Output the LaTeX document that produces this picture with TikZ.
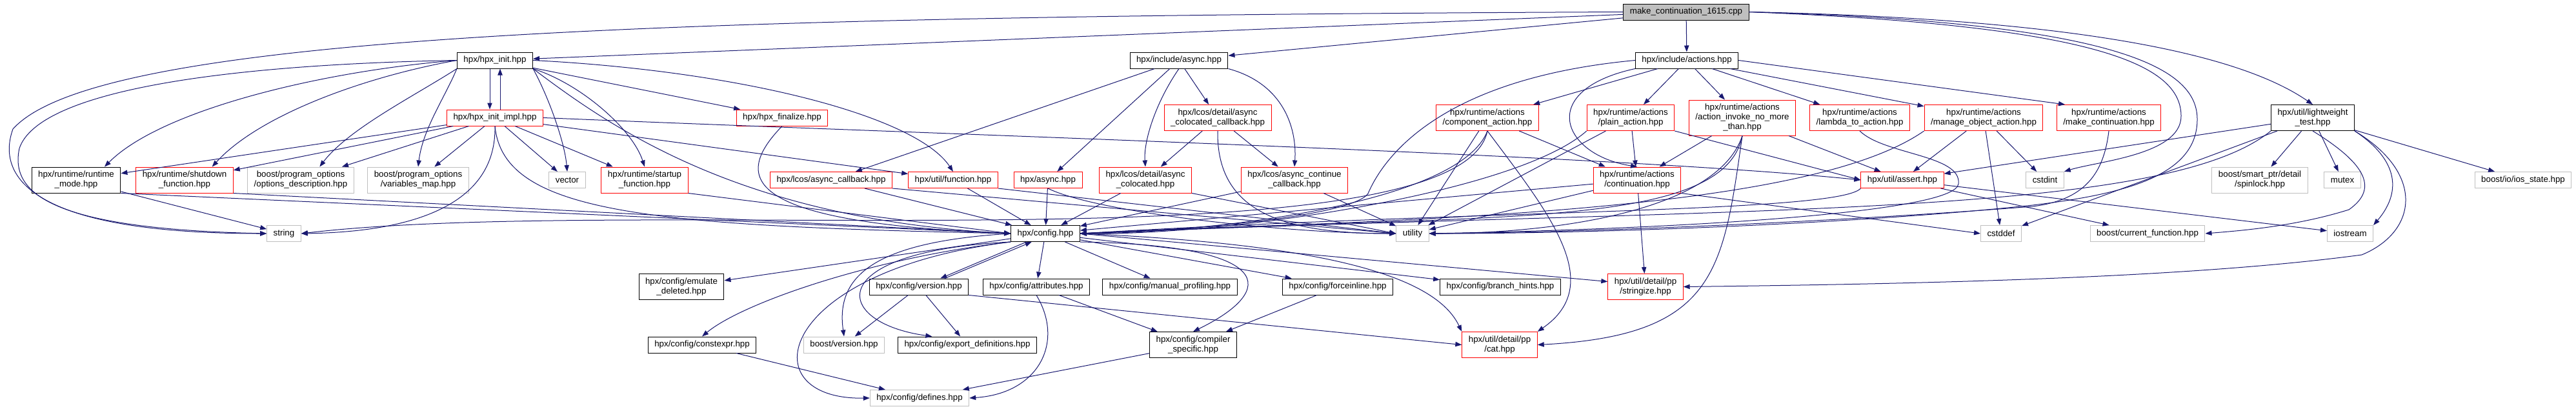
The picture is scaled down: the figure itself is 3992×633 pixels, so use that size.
\documentclass[tikz,border=0pt]{standalone}
\usepackage{fontspec}
\setmainfont{Liberation Sans}
\usepackage{xcolor}
\definecolor{dxblue}{RGB}{25,25,112}
\definecolor{dxgray}{RGB}{191,191,191}
\definecolor{dxred}{RGB}{255,0,0}
\usetikzlibrary{arrows.meta}
\tikzset{
  hdr/.style={draw=#1, line width=0.75pt, fill=white, font=\fontsize{10}{11.25}\selectfont,
              inner xsep=7.5pt, inner ysep=1pt, minimum height=18.75pt, align=center},
  hdr2/.style={hdr=#1, minimum height=30pt},
  hdr3/.style={hdr=#1, minimum height=41.25pt},
  dep/.style={-{Triangle[length=7.5pt,width=5.5pt]}, draw=dxblue, line width=0.75pt},
}
\begin{document}
\begin{tikzpicture}[x=0.75pt, y=-0.75pt]
\useasboundingbox (0,0) rectangle (3992,633);

% the test source
\node[hdr=black, fill=dxgray] (root) at (2613,18.5) {make\_continuation\_1615.cpp};

% headers the test includes
\node[hdr=black] (hpxinit) at (767,93.5) {hpx/hpx\_init.hpp};
\node[hdr=black] (incasync) at (1827,93.5) {hpx/include/async.hpp};
\node[hdr=black] (incactions) at (2614,93.5) {hpx/include/actions.hpp};
\node[hdr2=black] (lwtest) at (3584,182.5) {hpx/util/lightweight\\\_test.hpp};

% second level
\node[hdr=dxred] (initimpl) at (767,182.5) {hpx/hpx\_init\_impl.hpp};
\node[hdr=dxred] (finalize) at (1212,182.5) {hpx/hpx\_finalize.hpp};
\node[hdr2=dxred] (acolcb) at (1887,182.5) {hpx/lcos/detail/async\\\_colocated\_callback.hpp};
\node[hdr2=dxred] (compaction) at (2305,182.5) {hpx/runtime/actions\\/component\_action.hpp};
\node[hdr2=dxred] (plainaction) at (2527,182.5) {hpx/runtime/actions\\/plain\_action.hpp};
\node[hdr3=dxred] (invoke) at (2700,182.5) {hpx/runtime/actions\\/action\_invoke\_no\_more\\\_than.hpp};
\node[hdr2=dxred] (lambda) at (2882,182.5) {hpx/runtime/actions\\/lambda\_to\_action.hpp};
\node[hdr2=dxred] (manage) at (3074,182.5) {hpx/runtime/actions\\/manage\_object\_action.hpp};
\node[hdr2=dxred] (makecont) at (3268,182.5) {hpx/runtime/actions\\/make\_continuation.hpp};

% third level
\node[hdr2=black] (runtimemode) at (118,279) {hpx/runtime/runtime\\\_mode.hpp};
\node[hdr2=dxred] (shutdown) at (286,279) {hpx/runtime/shutdown\\\_function.hpp};
\node[hdr2=dxgray] (optdesc) at (466,279) {boost/program\_options\\/options\_description.hpp};
\node[hdr2=dxgray] (varmap) at (648,279) {boost/program\_options\\/variables\_map.hpp};
\node[hdr=dxgray] (vector) at (879,279) {vector};
\node[hdr2=dxred] (startup) at (999,279) {hpx/runtime/startup\\\_function.hpp};
\node[hdr=dxred] (asynccb) at (1288,279) {hpx/lcos/async\_callback.hpp};
\node[hdr=dxred] (function) at (1477,279) {hpx/util/function.hpp};
\node[hdr=dxred] (async) at (1624,279) {hpx/async.hpp};
\node[hdr2=dxred] (acol) at (1775,279) {hpx/lcos/detail/async\\\_colocated.hpp};
\node[hdr2=dxred] (acontcb) at (2006,279) {hpx/lcos/async\_continue\\\_callback.hpp};
\node[hdr2=dxred] (continuation) at (2537,279) {hpx/runtime/actions\\/continuation.hpp};
\node[hdr=dxred] (assert) at (2948,279) {hpx/util/assert.hpp};
\node[hdr=dxgray] (cstdint) at (3169,279) {cstdint};
\node[hdr2=dxgray] (spinlock) at (3502,279) {boost/smart\_ptr/detail\\/spinlock.hpp};
\node[hdr=dxgray] (mutex) at (3630,279) {mutex};
\node[hdr=dxgray] (iosstate) at (3910,279) {boost/io/ios\_state.hpp};

% fourth level
\node[hdr=dxgray] (string) at (440,362) {string};
\node[hdr=black] (config) at (1620,362) {hpx/config.hpp};
\node[hdr=dxgray] (utility) at (2189,362) {utility};
\node[hdr=dxgray] (cstddef) at (3101,362) {cstddef};
\node[hdr=dxgray] (curfunc) at (3328,362) {boost/current\_function.hpp};
\node[hdr=dxgray] (iostream) at (3642,362) {iostream};

% config headers
\node[hdr2=black] (emulate) at (1056,444.5) {hpx/config/emulate\\\_deleted.hpp};
\node[hdr=black] (cversion) at (1424,444.5) {hpx/config/version.hpp};
\node[hdr=black] (attributes) at (1606,444.5) {hpx/config/attributes.hpp};
\node[hdr=black] (manprof) at (1813,444.5) {hpx/config/manual\_profiling.hpp};
\node[hdr=black] (forceinline) at (2073,444.5) {hpx/config/forceinline.hpp};
\node[hdr=black] (branch) at (2325,444.5) {hpx/config/branch\_hints.hpp};
\node[hdr2=dxred] (stringize) at (2550,444.5) {hpx/util/detail/pp\\/stringize.hpp};
\node[hdr=black] (constexpr) at (1088,534.5) {hpx/config/constexpr.hpp};
\node[hdr=dxgray] (bversion) at (1308,534.5) {boost/version.hpp};
\node[hdr=black] (exportdef) at (1499,534.5) {hpx/config/export\_definitions.hpp};
\node[hdr2=black] (compiler) at (1849,534.5) {hpx/config/compiler\\\_specific.hpp};
\node[hdr2=dxred] (cat) at (2324,534.5) {hpx/util/detail/pp\\/cat.hpp};
\node[hdr=dxgray] (defines) at (1425,617) {hpx/config/defines.hpp};

% from the test source
\draw[dep] (root) -- (hpxinit);
\draw[dep] (root) -- (incasync);
\draw[dep] (root) -- (incactions);
\draw[dep] (root.east) .. controls (3250,30) and (3480,90) .. (lwtest.north);
\draw[dep] (root.west) .. controls (1000,25) and (150,55) .. (20,200) .. controls (-5,270) and (40,362) .. (string.west);
\draw[dep] (root.east) .. controls (3250,40) and (3380,100) .. (3380,180) .. controls (3380,240) and (3250,250) .. (cstdint.north east);
\draw[dep] (root.east) .. controls (3300,35) and (3405,110) .. (3405,185) .. controls (3405,270) and (3300,300) .. (3150,318) .. controls (2900,345) and (2500,362) .. (utility.east);

% hpx_init
\draw[dep] ([xshift=-6pt]hpxinit.south) -- ([xshift=-6pt]initimpl.north);
\draw[dep] (hpxinit) -- (finalize);
\draw[dep] (hpxinit.east) .. controls (1150,110) and (1420,180) .. (function.north);
\draw[dep] (hpxinit.south east) .. controls (950,200) and (1150,340) .. (config.west);
\draw[dep] (hpxinit.south east) .. controls (850,150) and (875,220) .. (vector.north);
\draw[dep] (hpxinit.south east) .. controls (900,130) and (980,200) .. (startup.north);
\draw[dep] (hpxinit.west) .. controls (500,110) and (250,170) .. ([xshift=33pt]runtimemode.north);
\draw[dep] (hpxinit.west) .. controls (560,120) and (400,180) .. ([xshift=32pt]shutdown.north);
\draw[dep] (hpxinit.south west) .. controls (640,150) and (540,200) .. ([xshift=22pt]optdesc.north);
\draw[dep] (hpxinit.south west) .. controls (690,150) and (655,200) .. (varmap.north);
\draw[dep] (hpxinit.west) .. controls (350,100) and (60,140) .. (30,230) .. controls (15,300) and (80,355) .. (string.west);

% hpx_init_impl
\draw[dep] ([xshift=6pt]initimpl.north) -- ([xshift=6pt]hpxinit.south);
\draw[dep] (initimpl) -- (runtimemode);
\draw[dep] (initimpl) -- (shutdown);
\draw[dep] (initimpl) -- (optdesc);
\draw[dep] (initimpl) -- (varmap);
\draw[dep] (initimpl) -- (vector);
\draw[dep] (initimpl) -- (startup);
\draw[dep] (initimpl) -- (function);
\draw[dep] (initimpl.south) .. controls (770,335) and (600,360) .. (string.east);
\draw[dep] (initimpl.south) .. controls (780,330) and (1000,350) .. (config.west);
\draw[dep] (initimpl.east) .. controls (1500,210) and (2500,240) .. (assert.west);

\draw[dep] (finalize.south) .. controls (1130,280) and (1160,345) .. (config.west);

% include/async
\draw[dep] (incasync) -- (asynccb);
\draw[dep] (incasync) -- (async);
\draw[dep] (incasync.south) .. controls (1790,160) and (1772,220) .. (acol.north);
\draw[dep] (incasync) -- (acolcb);
\draw[dep] (incasync.south east) .. controls (1990,130) and (2010,200) .. (acontcb.north);
\draw[dep] (acolcb) -- (acol);
\draw[dep] (acolcb) -- (acontcb);
\draw[dep] (acolcb.south) .. controls (1885,330) and (1990,362) .. (utility.west);

% include/actions
\draw[dep] (incactions) -- (compaction);
\draw[dep] (incactions) -- (plainaction);
\draw[dep] (incactions) -- (invoke);
\draw[dep] (incactions) -- (lambda);
\draw[dep] (incactions) -- (manage);
\draw[dep] (incactions.east) -- ([xshift=10pt]makecont.north west);
\draw[dep] (incactions.south west) .. controls (2380,140) and (2420,240) .. (continuation.north);
\draw[dep] (incactions.west) .. controls (2250,120) and (2150,230) .. (2120,300) .. controls (2100,330) and (1900,355) .. (config.east);

% actions
\draw[dep] (compaction) -- (continuation);
\draw[dep] (compaction) -- (utility);
\draw[dep] (compaction.south) .. controls (2400,330) and (2490,440) .. (cat.north east);
\draw[dep] (compaction.south) .. controls (2260,320) and (1850,362) .. (config.east);
\draw[dep] (compaction.south) .. controls (2260,420) and (1000,300) .. (string.east);
\draw[dep] (plainaction) -- (continuation);
\draw[dep] (plainaction) -- (utility);
\draw[dep] (plainaction.south west) .. controls (2350,300) and (1900,365) .. (config.east);
\draw[dep] (plainaction.south east) -- (assert.west);
\draw[dep] (invoke) -- (continuation);
\draw[dep] (invoke) -- (assert);
\draw[dep] (invoke.south) .. controls (2670,420) and (2660,520) .. (cat.east);
\draw[dep] (invoke.south) .. controls (2660,330) and (2400,362) .. (utility.east);
\draw[dep] (invoke.south) .. controls (2670,360) and (2300,330) .. (config.east);
\draw[dep] (lambda.south) .. controls (2920,240) and (3040,240) .. (3035,285) .. controls (3030,330) and (2600,355) .. (utility.east);
\draw[dep] (manage) -- (assert);
\draw[dep] (manage) -- (cstdint);
\draw[dep] (manage) -- (cstddef);
\draw[dep] (manage.south west) .. controls (2800,330) and (2200,340) .. (config.east);
\draw[dep] (makecont.south) .. controls (3260,270) and (3230,310) .. (3150,320) .. controls (2900,340) and (2500,360) .. (utility.east);
\draw[dep] (continuation) -- (stringize);
\draw[dep] (continuation) -- (config);
\draw[dep] (continuation) -- (utility);
\draw[dep] (continuation.south east) -- (cstddef.west);

% assert
\draw[dep] (assert.south west) .. controls (2850,330) and (2300,325) .. (config.east);
\draw[dep] (assert) -- (curfunc);
\draw[dep] (assert) -- (iostream);

% lightweight_test
\draw[dep] (lwtest) -- (assert);
\draw[dep] (lwtest) -- (spinlock);
\draw[dep] (lwtest) -- (mutex);
\draw[dep] (lwtest) -- (iosstate);
\draw[dep] (lwtest) -- (cstddef);
\draw[dep] (lwtest.south west) .. controls (3350,340) and (2700,320) .. (config.east);
\draw[dep] (lwtest.south east) .. controls (3720,250) and (3720,300) .. (iostream.north east);
\draw[dep] (lwtest.south) .. controls (3660,250) and (3690,290) .. (3640,325) .. controls (3560,350) and (3480,357) .. (curfunc.east);
\draw[dep] (lwtest.south east) .. controls (3760,270) and (3745,360) .. (3660,395) .. controls (3400,430) and (3000,440) .. (stringize.east);

% third level into config and utility
\draw[dep] (runtimemode) -- (string);
\draw[dep] (runtimemode.south east) -- (config.west);
\draw[dep] (shutdown.south east) -- (config.west);
\draw[dep] (startup.south east) -- (config.west);
\draw[dep] (asynccb) -- (config);
\draw[dep] (asynccb.south east) -- (utility.west);
\draw[dep] (function) -- (config);
\draw[dep] (function.south east) -- (utility.west);
\draw[dep] (async) -- (config);
\draw[dep] (async.south) .. controls (1700,330) and (2000,362) .. (utility.west);
\draw[dep] (acol) -- (config);
\draw[dep] (acol.south east) -- (utility.west);
\draw[dep] (acontcb) -- (utility);
\draw[dep] (acontcb) -- (config);

% config
\draw[dep] (config) -- (emulate);
\draw[dep] (config.south west) .. controls (1350,400) and (1150,470) .. (constexpr.north);
\draw[dep] (config.west) .. controls (1350,375) and (1295,430) .. (bversion.north);
\draw[dep] ([xshift=-22pt]config.south) -- ([xshift=25pt]cversion.north);
\draw[dep] ([xshift=30pt]cversion.north) -- ([xshift=-16pt]config.south);
\draw[dep] (config.south west) .. controls (1270,390) and (1290,500) .. ([xshift=-41pt]exportdef.north);
\draw[dep] (config) -- (attributes);
\draw[dep] (config) -- (manprof);
\draw[dep] (config.south east) .. controls (1980,380) and (1980,450) .. (compiler.north);
\draw[dep] (config) -- (forceinline);
\draw[dep] (config) -- (branch);
\draw[dep] (config.east) -- ([yshift=6pt]stringize.west);
\draw[dep] (config.east) .. controls (2100,380) and (2230,440) .. (cat.north west);
\draw[dep] (config.south west) .. controls (1200,420) and (1160,620) .. (defines.west);

% config headers
\draw[dep] (cversion) -- (bversion);
\draw[dep] (cversion) -- (exportdef);
\draw[dep] (cversion.south east) -- (cat.west);
\draw[dep] (attributes) -- (compiler);
\draw[dep] (attributes.south) .. controls (1650,530) and (1610,610) .. (defines.east);
\draw[dep] (forceinline) -- (compiler);
\draw[dep] (constexpr) -- (defines);
\draw[dep] (compiler) -- (defines);

\end{tikzpicture}
\end{document}
